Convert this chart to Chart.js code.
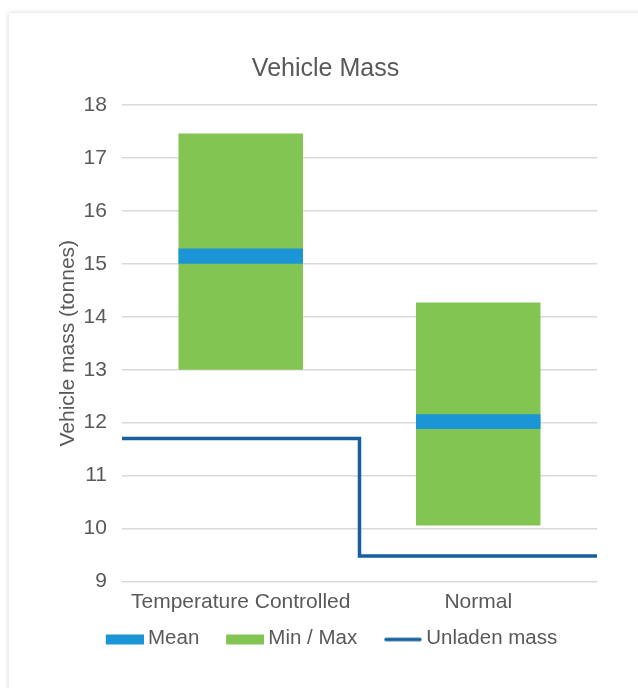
<!DOCTYPE html>
<html>
<head>
<meta charset="utf-8">
<script src="https://cdn.jsdelivr.net/npm/chart.js@4.4.1/dist/chart.umd.min.js"></script>
<style>
  html, body { margin: 0; padding: 0; background: #fff; overflow: hidden; }
  #card {
    position: absolute; left: 9px; top: 13px; width: 700px; height: 700px;
    background: #fff; box-shadow: 0 0 5px rgba(0, 0, 0, 0.18);
  }
  #wrap { position: absolute; left: 0; top: 0; width: 638px; height: 688px; }
</style>
</head>
<body>
<div id="card"></div>
<div id="wrap"><canvas id="myChart"></canvas></div>
<script>
// Données
const categories = ['Temperature Controlled', 'Normal'];
const minMass = [13.0, 10.06];
const maxMass = [17.46, 14.27];
const meanLow = [15.0, 11.88];
const meanHigh = [15.29, 12.16];
const unladenMass = [11.7, 9.48];
const yTicks = [9, 10, 11, 12, 13, 14, 15, 16, 17, 18];

const GREEN = '#82c553';
const BLUE = '#1b95d5';
const DARK = '#175f9d';
const TEXT = '#595959';
const FONT = 'Liberation Sans';

// Icône de légende : partie visible décalée à droite (marge transparente à gauche)
function legendIcon(kind, color) {
    const m = 9;
    const c = document.createElement('canvas');
    c.width = 38 + 2 * m;
    c.height = 14;
    const g = c.getContext('2d');
    if (kind === 'box') {
        g.fillStyle = color;
        g.fillRect(2 * m, 3, 38, 10);
    } else {
        g.strokeStyle = color;
        g.lineWidth = 3.5;
        g.lineCap = 'round';
        g.beginPath();
        g.moveTo(2 * m + 2, 8);
        g.lineTo(2 * m + 36, 8);
        g.stroke();
    }
    return c;
}
const legendIcons = [legendIcon('box', BLUE), legendIcon('box', GREEN), legendIcon('line', DARK)];

// Ligne en escalier : chaque catégorie couvre une unité sur l'axe x2
const unladenPoints = unladenMass.map((v, i) => ({ x: i, y: v }));
unladenPoints.push({ x: unladenMass.length, y: unladenMass[unladenMass.length - 1] });

const ctx = document.getElementById('myChart').getContext('2d');
new Chart(ctx, {
    type: 'bar',
    data: {
        labels: categories,
        datasets: [
            {
                label: 'Mean',
                data: meanLow.map((v, i) => [v, meanHigh[i]]),
                backgroundColor: BLUE,
                borderWidth: 0,
                grouped: false,
                barPercentage: 0.524,
                categoryPercentage: 1
            },
            {
                label: 'Min / Max',
                data: minMass.map((v, i) => [v, maxMass[i]]),
                backgroundColor: GREEN,
                borderWidth: 0,
                grouped: false,
                barPercentage: 0.524,
                categoryPercentage: 1
            },
            {
                type: 'line',
                label: 'Unladen mass',
                data: unladenPoints,
                xAxisID: 'x2',
                borderColor: DARK,
                backgroundColor: DARK,
                borderWidth: 3.5,
                stepped: true,
                pointRadius: 0,
                fill: false
            }
        ]
    },
    options: {
        responsive: true,
        maintainAspectRatio: false,
        animation: false,
        layout: { padding: { left: 54, right: 41, top: 0, bottom: 29.25 } },
        plugins: {
            title: {
                display: true,
                text: 'Vehicle Mass',
                color: TEXT,
                font: { family: FONT, size: 25, weight: 'normal' },
                padding: { top: 54, bottom: 21 }
            },
            legend: {
                position: 'bottom',
                labels: {
                    color: TEXT,
                    font: { family: FONT, size: 20.5 },
                    usePointStyle: true,
                    pointStyleWidth: 44,
                    padding: 14.75,
                    generateLabels: chart =>
                        Chart.defaults.plugins.legend.labels.generateLabels(chart)
                            .map((item, i) => ({ ...item, pointStyle: legendIcons[i] }))
                }
            },
            tooltip: { enabled: false }
        },
        scales: {
            x: {
                grid: { display: false, drawTicks: false },
                border: { display: false },
                ticks: {
                    color: TEXT,
                    font: { family: FONT, size: 21, lineHeight: 1 },
                    padding: 10,
                    maxRotation: 0
                },
                // hauteur réduite pour rapprocher la légende des étiquettes
                afterFit: axis => { axis.height = 32; }
            },
            x2: {
                type: 'linear',
                display: false,
                offset: false,
                grid: { offset: false },
                min: 0,
                max: categories.length
            },
            y: {
                min: yTicks[0],
                max: yTicks[yTicks.length - 1],
                afterBuildTicks: axis => { axis.ticks = yTicks.map(v => ({ value: v })); },
                grid: { color: '#d9d9d9', lineWidth: 1.5, drawTicks: false },
                border: { display: false },
                ticks: {
                    color: TEXT,
                    font: { family: FONT, size: 21 },
                    padding: 15
                },
                title: {
                    display: true,
                    text: 'Vehicle mass (tonnes)',
                    color: TEXT,
                    font: { family: FONT, size: 21 },
                    padding: { top: 1.4, bottom: -12 }
                }
            }
        }
    }
});
</script>
</body>
</html>
